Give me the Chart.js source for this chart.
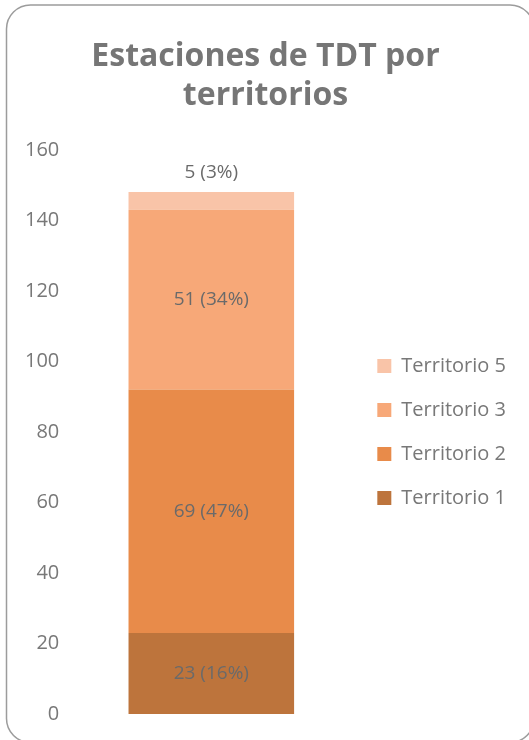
<!DOCTYPE html>
<html>
<head>
<meta charset="utf-8">
<script src="https://cdn.jsdelivr.net/npm/chart.js@4/dist/chart.umd.min.js"></script>
<style>
  html, body { margin: 0; padding: 0; background: #fff; }
  #wrap { width: 529px; height: 740px; position: relative; }
</style>
</head>
<body>
<div id="wrap"><canvas id="chart"></canvas></div>
<script>
// Data
const categories = ['TDT'];
const seriesNames = ['Territorio 1', 'Territorio 2', 'Territorio 3', 'Territorio 5'];
const seriesValues = [23, 69, 51, 5];
const seriesPercent = [16, 47, 34, 3];
const seriesColors = ['#BD743C', '#E88B4A', '#F7A878', '#F9C4A8'];
const yTicks = [0, 20, 40, 60, 80, 100, 120, 140, 160];

const FONT = "'Open Sans', sans-serif";
const GREY = '#787878';

// Rounded frame, partly running off the right/bottom edge like the original
const framePlugin = {
  id: 'frame',
  beforeDraw(chart) {
    const ctx = chart.ctx;
    ctx.save();
    ctx.strokeStyle = '#9c9c9c';
    ctx.lineWidth = 1.5;
    ctx.beginPath();
    ctx.roundRect(6.5, 5, 527.5, 737.5, 24);
    ctx.stroke();
    ctx.restore();
  }
};

// "value (pct%)" labels on each segment, last one above the bar
const valueLabels = {
  id: 'valueLabels',
  afterDatasetsDraw(chart) {
    const ctx = chart.ctx;
    ctx.save();
    ctx.font = '19px ' + FONT;
    ctx.fillStyle = '#6a6a6a';
    ctx.textAlign = 'center';
    ctx.textBaseline = 'middle';
    chart.data.datasets.forEach((ds, i) => {
      const bar = chart.getDatasetMeta(i).data[0];
      const txt = ds.data[0] + ' (' + seriesPercent[i] + '%)';
      if (i === chart.data.datasets.length - 1) {
        ctx.fillText(txt, bar.x, bar.y - 20);
      } else {
        ctx.fillText(txt, bar.x, (bar.y + bar.base) / 2);
      }
    });
    ctx.restore();
  }
};

const datasets = seriesNames.map((name, i) => ({
  label: name,
  data: [seriesValues[i]],
  backgroundColor: seriesColors[i],
  borderWidth: 0,
  barPercentage: 1,
  categoryPercentage: 0.583
}));

new Chart(document.getElementById('chart'), {
  type: 'bar',
  data: { labels: categories, datasets: datasets },
  plugins: [framePlugin, valueLabels],
  options: {
    responsive: true,
    maintainAspectRatio: false,
    animation: false,
    layout: { padding: { top: 14, left: 15, right: 13, bottom: 26 } },
    plugins: {
      title: {
        display: true,
        text: ['Estaciones de TDT por', 'territorios'],
        font: { family: FONT, size: 32, weight: 'bold', lineHeight: 1.2 },
        color: '#767676',
        padding: { top: 24, bottom: 35 }
      },
      legend: {
        position: 'right',
        fullSize: false,
        reverse: true,
        maxWidth: 200,
        labels: {
          font: { family: FONT, size: 20 },
          color: GREY,
          boxWidth: 14,
          boxHeight: 14,
          padding: 24
        }
      },
      tooltip: { enabled: false }
    },
    scales: {
      x: {
        stacked: true,
        display: false
      },
      y: {
        stacked: true,
        min: 0,
        max: 160,
        afterBuildTicks(scale) {
          scale.ticks = yTicks.map(v => ({ value: v }));
        },
        grid: { display: false, drawTicks: false },
        border: { display: false },
        ticks: {
          font: { family: FONT, size: 20 },
          color: GREY,
          padding: 10
        }
      }
    }
  }
});
</script>
</body>
</html>
